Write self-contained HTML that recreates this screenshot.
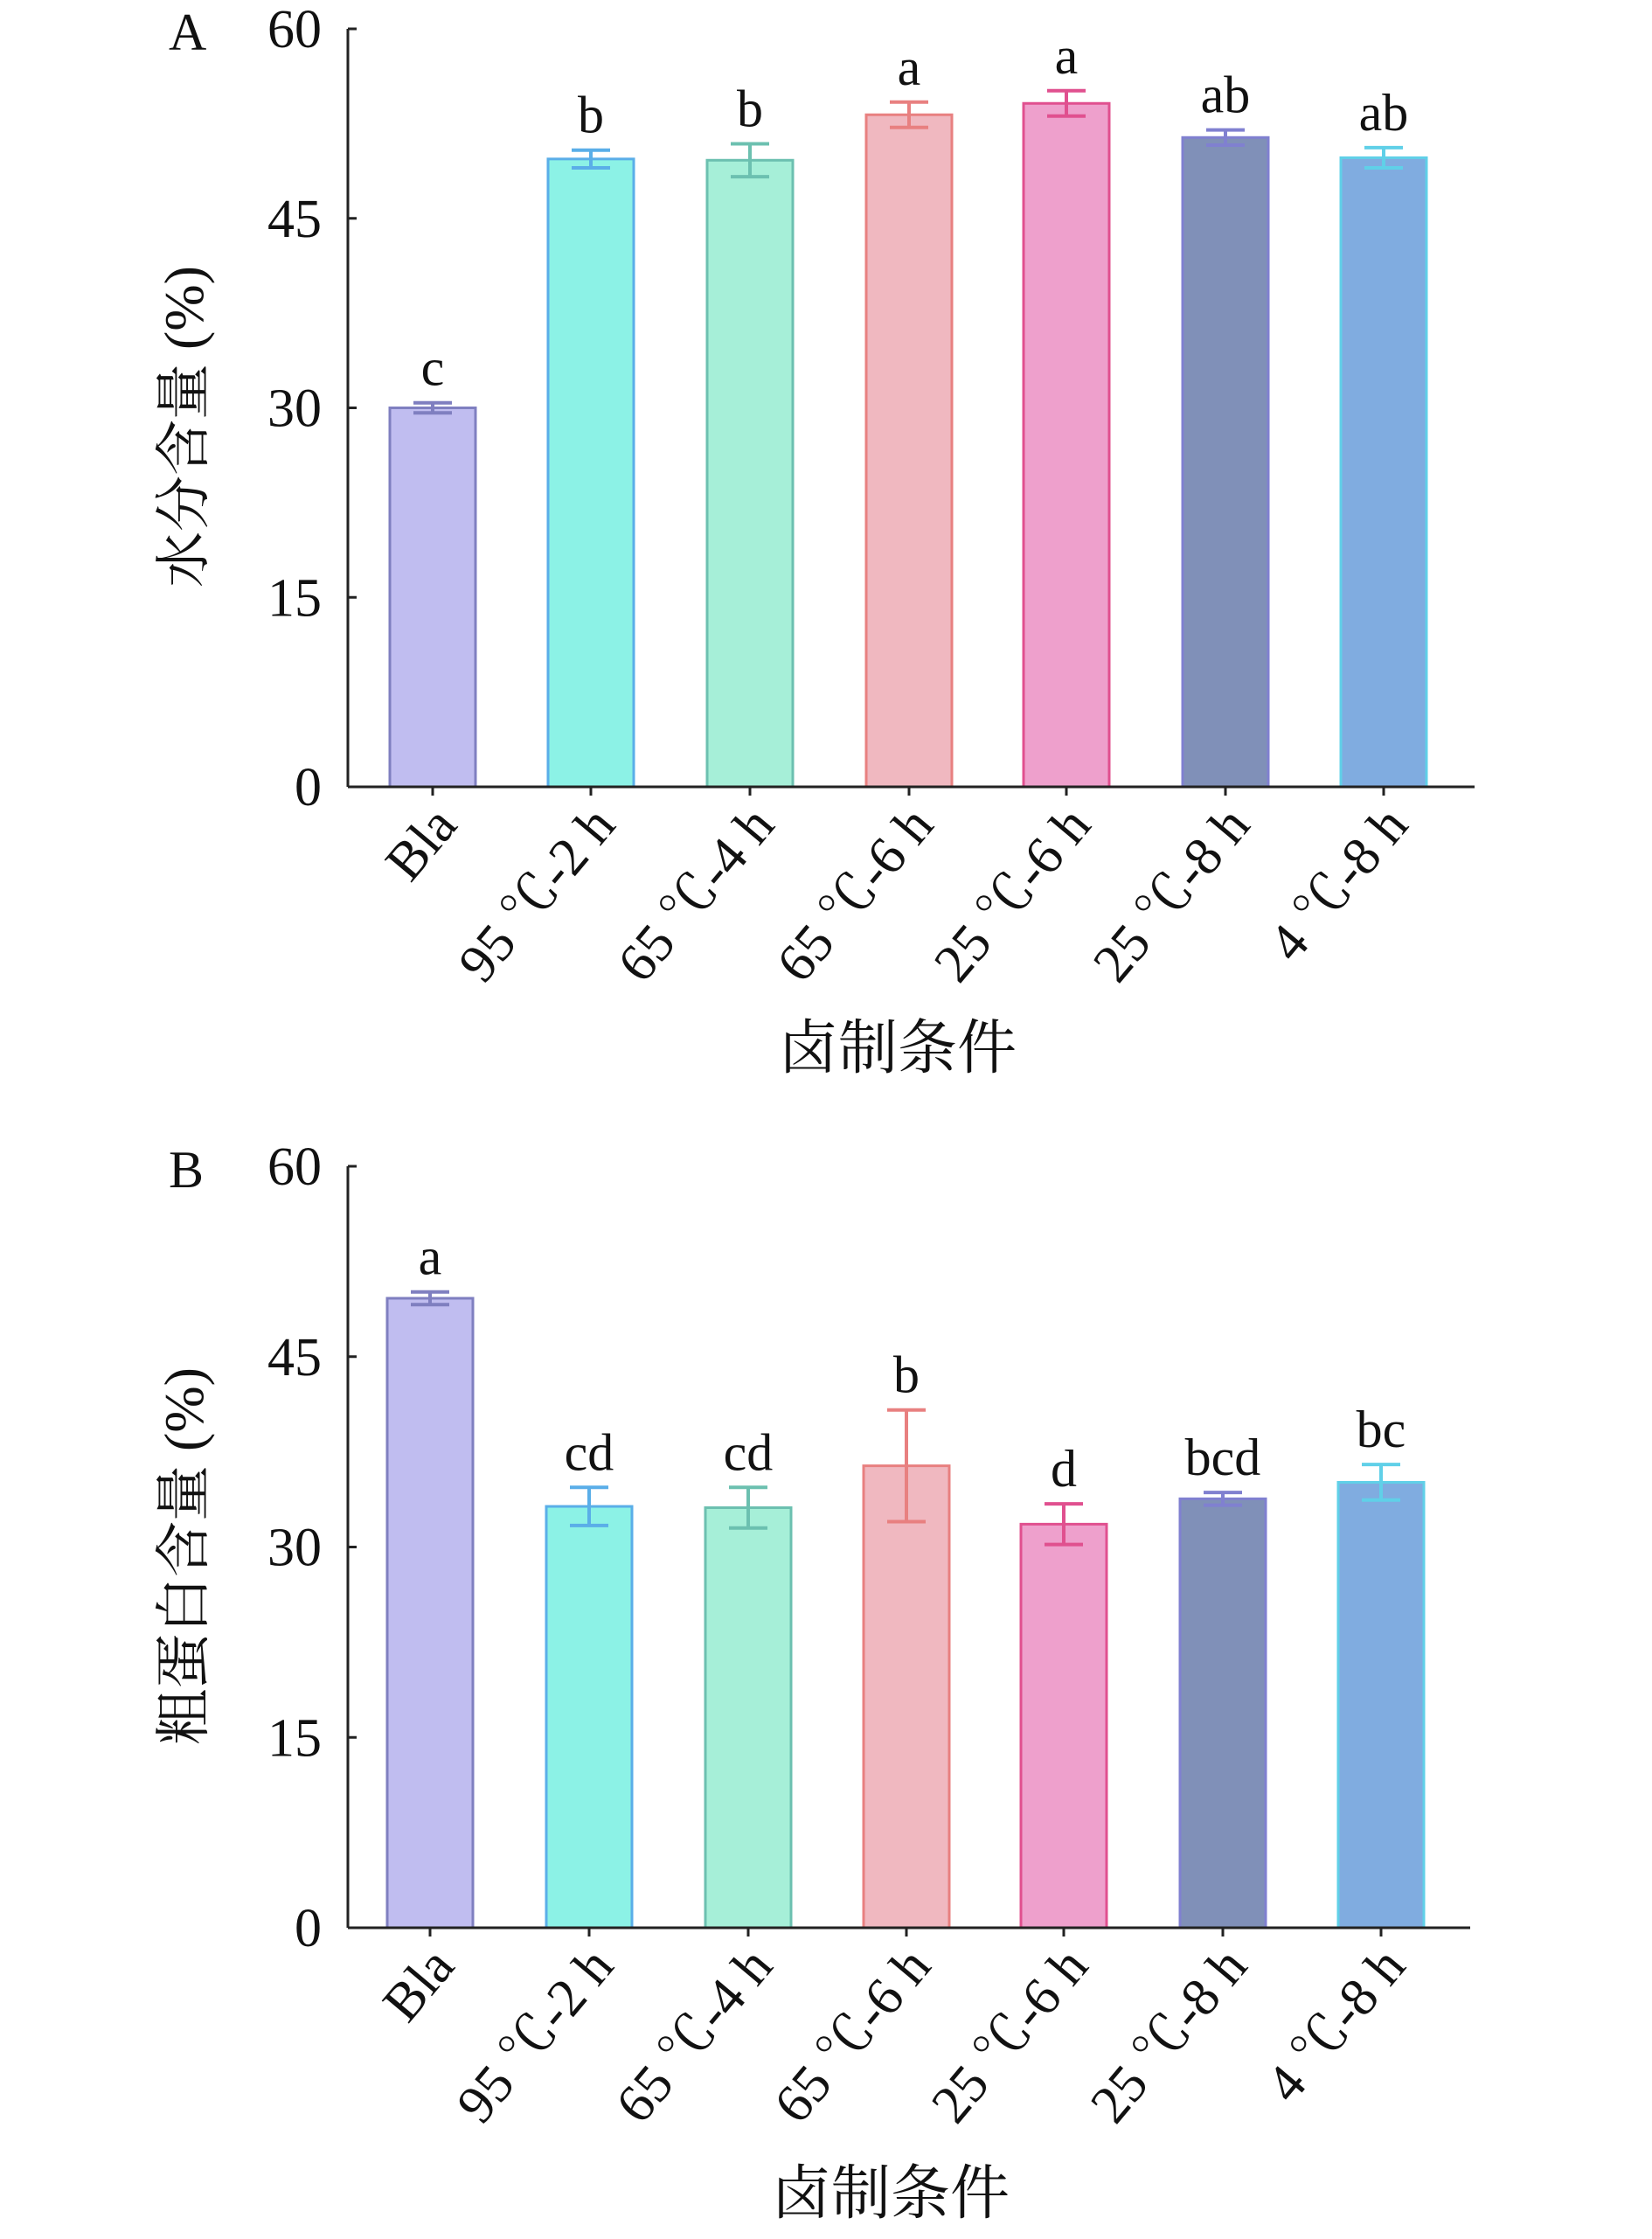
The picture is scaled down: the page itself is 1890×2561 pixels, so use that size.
<!DOCTYPE html>
<html><head><meta charset="utf-8"><style>
html,body{margin:0;padding:0;background:#fff;}
svg{display:block;}
text{font-family:"Liberation Serif","Noto Serif CJK SC",serif;fill:#111;}
</style></head><body>
<svg id="s" width="1890" height="2561" viewBox="0 0 1890 2561" xmlns="http://www.w3.org/2000/svg"></svg>
<script>
const s=document.getElementById('s');let h='';
const cats=['Bla','95 \u2103-2 h','65 \u2103-4 h','65 \u2103-6 h','25 \u2103-6 h','25 \u2103-8 h','4 \u2103-8 h'];
const fills=['#c0bdf0','#8cf2e6','#a6efd8','#f0b8c0','#eea0cc','#8090b8','#80ace0'];
const strokes=['#7f7fc0','#5aaee8','#6cc0b0','#e88080','#e0508f','#8080d0','#60d0e8'];
function panel(o){
 const {top,bot,x0,x1,centers,vals,errs,lets,letter,ylab,yc,xt,xty}=o;
 const u=(bot-top)/60;const Y=v=>bot-v*u;
 centers.forEach((c,i)=>{
  const w=98,y=Y(vals[i]);
  h+=`<rect x="${c-w/2}" y="${y}" width="${w}" height="${bot-y}" fill="${fills[i]}" stroke="${strokes[i]}" stroke-width="3"/>`;
  const e1=Y(vals[i]+errs[i]),e2=Y(vals[i]-errs[i]);
  h+=`<g stroke="${strokes[i]}" stroke-width="4"><line x1="${c}" y1="${e1}" x2="${c}" y2="${e2}"/><line x1="${c-22}" y1="${e1}" x2="${c+22}" y2="${e1}"/><line x1="${c-22}" y1="${e2}" x2="${c+22}" y2="${e2}"/></g>`;
  h+=`<text x="${c}" y="${e1-20}" font-size="60" text-anchor="middle">${lets[i]}</text>`;
  h+=`<line x1="${c}" y1="${bot}" x2="${c}" y2="${bot+10}" stroke="#222" stroke-width="3"/>`;
  h+=`<text transform="translate(${c+30},${bot+45}) rotate(-50)" font-size="62" text-anchor="end">${cats[i]}</text>`;
 });
 h+=`<line x1="${x0}" y1="${top}" x2="${x0}" y2="${bot}" stroke="#222" stroke-width="3"/>`;
 h+=`<line x1="${x0}" y1="${bot}" x2="${x1}" y2="${bot}" stroke="#222" stroke-width="3"/>`;
 [0,15,30,45,60].forEach(v=>{const y=Y(v);
  h+=`<line x1="${x0}" y1="${y}" x2="${x0+10}" y2="${y}" stroke="#222" stroke-width="3"/>`;
  h+=`<text x="${x0-30}" y="${y+21}" font-size="62" text-anchor="end">${v}</text>`;});
 h+=`<text x="${x0-205}" y="${top+24}" font-size="60">${letter}</text>`;
 h+=`<text transform="translate(232,${yc}) rotate(-90)" font-size="64" text-anchor="middle">${ylab}</text>`;
 h+=`<text x="${xt}" y="${xty}" font-size="68" text-anchor="middle">卤制条件</text>`;
}
panel({top:33,bot:900,x0:398,x1:1687,centers:[495,676,858,1040,1220,1402,1583],
 vals:[30,49.7,49.6,53.2,54.1,51.4,49.8],errs:[0.4,0.7,1.3,1.0,1.0,0.6,0.8],
 lets:['c','b','b','a','a','ab','ab'],letter:'A',ylab:'水分含量 (%)',yc:488,xt:1027,xty:1222});
panel({top:1334,bot:2205,x0:398,x1:1682,centers:[492,674,856,1037,1217,1399,1580],
 vals:[49.6,33.2,33.1,36.4,31.8,33.8,35.1],errs:[0.5,1.5,1.6,4.4,1.6,0.5,1.4],
 lets:['a','cd','cd','b','d','bcd','bc'],letter:'B',ylab:'粗蛋白含量 (%)',yc:1780,xt:1019,xty:2532});
s.innerHTML=h;
</script>
</body></html>
